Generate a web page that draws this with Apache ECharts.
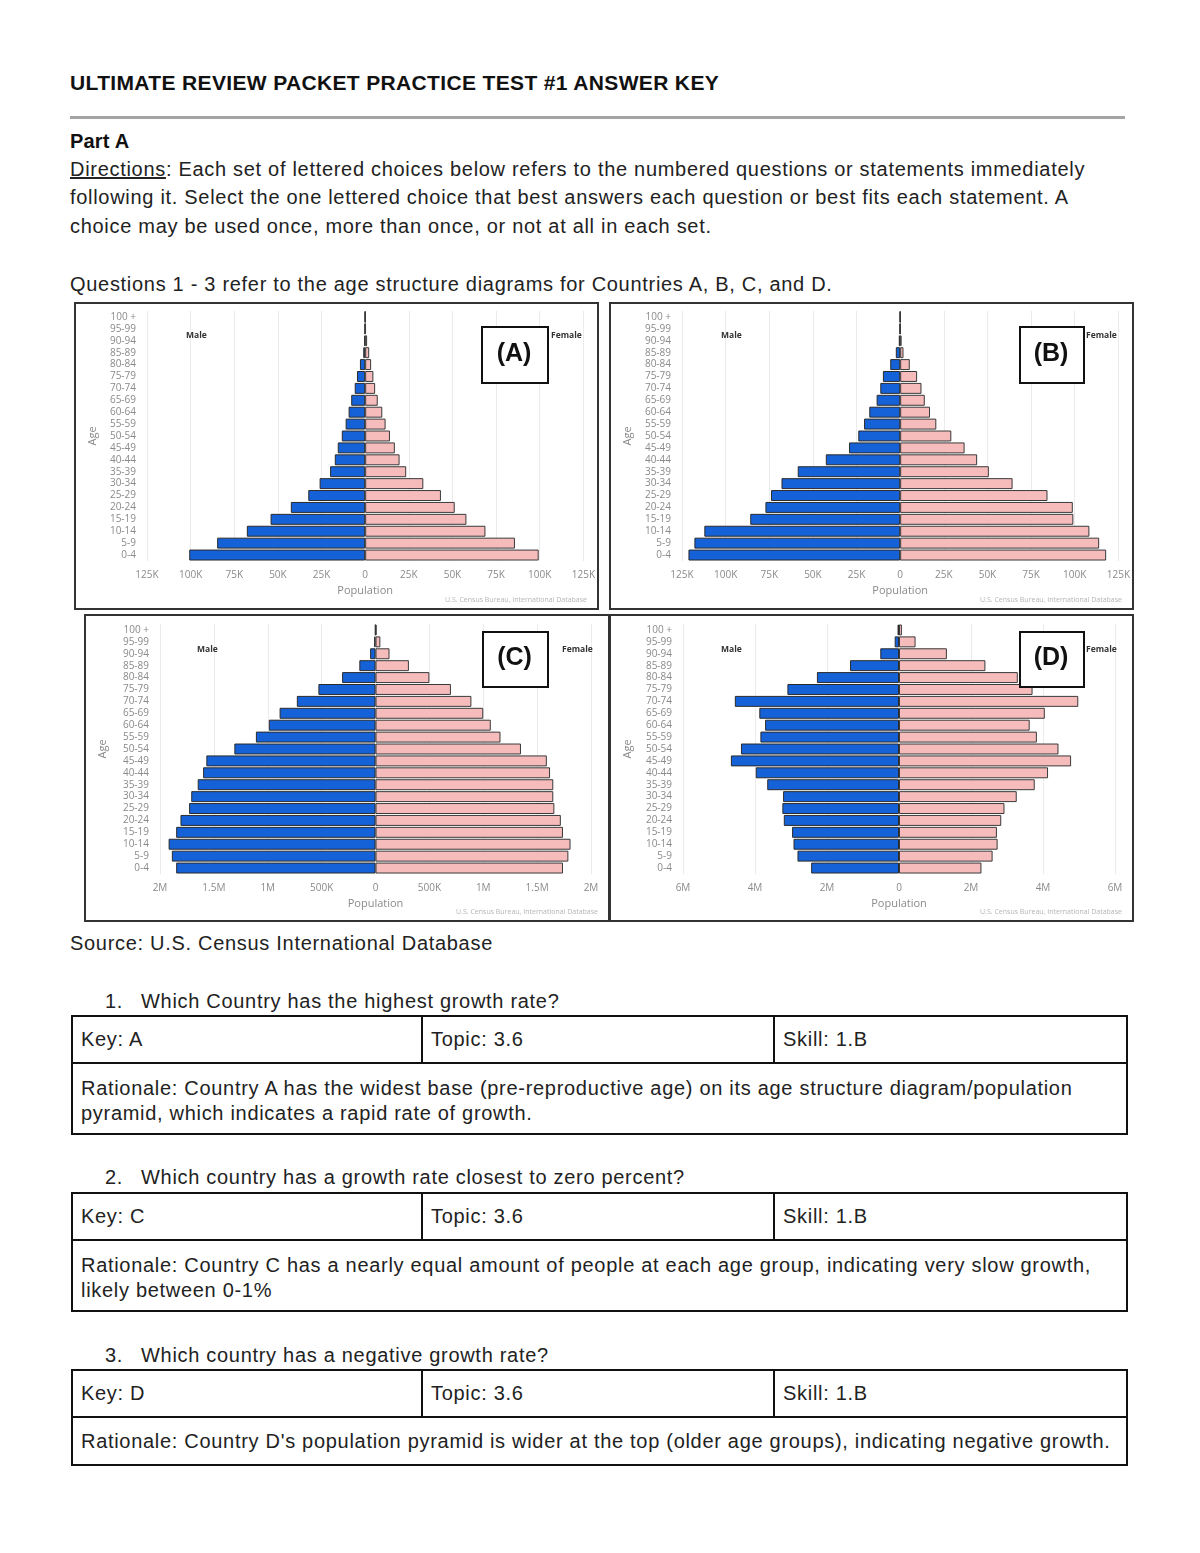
<!DOCTYPE html>
<html>
<head>
<meta charset="utf-8">
<script src="https://cdn.jsdelivr.net/npm/echarts@6/dist/echarts.min.js"></script>
<style>
  html, body { margin: 0; padding: 0; background: #fff; }
  #page { position: relative; width: 1200px; height: 1553px; background: #fff; font-family: "Liberation Sans", Arial, sans-serif; color: #222; overflow: hidden; }
  .t { position: absolute; font-size: 20px; line-height: 24px; white-space: nowrap; letter-spacing: 0.7px; }
  .b { font-weight: bold; color: #111; }
  .title { font-size: 21px; letter-spacing: 0.35px; }
  .chart { position: absolute; }
  .frame { position: absolute; border: 2px solid #333; box-sizing: border-box; pointer-events: none; }
  table.k { position: absolute; left: 71px; width: 1055px; border-collapse: collapse; table-layout: fixed; }
  table.k td { border: 2px solid #111; font-size: 20px; line-height: 25px; padding: 0 0 0 8px; vertical-align: middle; color: #222; letter-spacing: 0.7px; white-space: nowrap; }
  table.k tr.r1 td { height: 45px; }
  table.k td.rat { vertical-align: top; padding-top: 12px; }
</style>
</head>
<body>
<div id="page">
  <div class="t b title" style="left:70px;top:71px;">ULTIMATE REVIEW PACKET PRACTICE TEST #1 ANSWER KEY</div>
  <div style="position:absolute;left:70px;top:116px;width:1055px;height:3px;background:#a4a4a4;"></div>
  <div class="t b" style="left:70px;top:129px;letter-spacing:0.2px;">Part A</div>
  <div class="t" style="left:70px;top:157px;"><u>Directions</u>: Each set of lettered choices below refers to the numbered questions or statements immediately</div>
  <div class="t" style="left:70px;top:185px;">following it. Select the one lettered choice that best answers each question or best fits each statement. A</div>
  <div class="t" style="left:70px;top:214px;">choice may be used once, more than once, or not at all in each set.</div>
  <div class="t" style="left:70px;top:272px;">Questions 1 - 3 refer to the age structure diagrams for Countries A, B, C, and D.</div>

  <div id="cA" class="chart" style="left:74px;top:302px;width:524px;height:307px;"></div>
  <div id="cB" class="chart" style="left:609px;top:302px;width:524px;height:307px;"></div>
  <div id="cC" class="chart" style="left:84px;top:614px;width:525px;height:307px;"></div>
  <div id="cD" class="chart" style="left:609px;top:614px;width:524px;height:307px;"></div>
  <div class="frame" style="left:74px;top:302px;width:525px;height:308px;"></div>
  <div class="frame" style="left:609px;top:302px;width:525px;height:308px;"></div>
  <div class="frame" style="left:84px;top:614px;width:526px;height:308px;"></div>
  <div class="frame" style="left:609px;top:614px;width:525px;height:308px;"></div>

  <div class="t" style="left:70px;top:931px;">Source: U.S. Census International Database</div>

  <div class="t" style="left:105px;top:989px;">1.</div>
  <div class="t" style="left:141px;top:989px;">Which Country has the highest growth rate?</div>
  <table class="k" style="top:1015px;">
    <colgroup><col style="width:350px"><col style="width:352px"><col style="width:353px"></colgroup>
    <tr class="r1"><td>Key: A</td><td>Topic: 3.6</td><td>Skill: 1.B</td></tr>
    <tr><td class="rat" colspan="3" style="height:57px;">Rationale: Country A has the widest base (pre-reproductive age) on its age structure diagram/population<br>pyramid, which indicates a rapid rate of growth.</td></tr>
  </table>

  <div class="t" style="left:105px;top:1165px;">2.</div>
  <div class="t" style="left:141px;top:1165px;">Which country has a growth rate closest to zero percent?</div>
  <table class="k" style="top:1192px;">
    <colgroup><col style="width:350px"><col style="width:352px"><col style="width:353px"></colgroup>
    <tr class="r1"><td>Key: C</td><td>Topic: 3.6</td><td>Skill: 1.B</td></tr>
    <tr><td class="rat" colspan="3" style="height:57px;">Rationale: Country C has a nearly equal amount of people at each age group, indicating very slow growth,<br>likely between 0-1%</td></tr>
  </table>

  <div class="t" style="left:105px;top:1343px;">3.</div>
  <div class="t" style="left:141px;top:1343px;">Which country has a negative growth rate?</div>
  <table class="k" style="top:1369px;">
    <colgroup><col style="width:350px"><col style="width:352px"><col style="width:353px"></colgroup>
    <tr class="r1"><td>Key: D</td><td>Topic: 3.6</td><td>Skill: 1.B</td></tr>
    <tr><td colspan="3" style="height:46px;">Rationale: Country D's population pyramid is wider at the top (older age groups), indicating negative growth.</td></tr>
  </table>
</div>

<script>
// ---- data ----
const ageGroups = ['0-4','5-9','10-14','15-19','20-24','25-29','30-34','35-39','40-44','45-49','50-54','55-59','60-64','65-69','70-74','75-79','80-84','85-89','90-94','95-99','100 +'];

// Country A (thousands)
const maleA   = [100.8, 84.8, 67.8, 54.2, 42.6, 32.6, 26.1, 20.1, 17.4, 15.7, 13.4, 11.2, 9.5, 8.0, 6.0, 4.7, 3.0, 1.1, 0.5, 0.3, 0.1];
const femaleA = [99.4, 85.8, 68.9, 58.0, 51.3, 43.4, 33.3, 23.5, 19.7, 17.0, 14.2, 11.7, 9.8, 7.2, 5.7, 4.7, 3.4, 2.3, 1.1, 0.4, 0.1];
// Country B (thousands)
const maleB   = [121.3, 117.9, 112.2, 85.9, 77.2, 74.0, 68.0, 58.7, 42.6, 29.3, 24.0, 20.7, 17.7, 13.5, 11.4, 9.9, 5.7, 2.5, 0.8, 0.3, 0.1];
const femaleB = [118.0, 114.0, 108.4, 99.2, 98.9, 84.4, 64.4, 50.8, 44.1, 36.9, 29.3, 20.7, 17.1, 14.1, 12.2, 9.7, 5.5, 1.9, 0.8, 0.3, 0.1];
// Country C (millions)
const maleC   = [1.85, 1.89, 1.92, 1.85, 1.81, 1.73, 1.71, 1.65, 1.60, 1.57, 1.31, 1.11, 0.99, 0.89, 0.73, 0.53, 0.31, 0.15, 0.05, 0.012, 0.003];
const femaleC = [1.74, 1.79, 1.81, 1.74, 1.72, 1.66, 1.65, 1.65, 1.62, 1.59, 1.35, 1.16, 1.07, 1.00, 0.89, 0.70, 0.50, 0.31, 0.13, 0.045, 0.01];
// Country D (millions)
const maleD   = [2.44, 2.82, 2.93, 2.97, 3.20, 3.24, 3.22, 3.66, 3.98, 4.67, 4.39, 3.85, 3.72, 3.88, 4.56, 3.10, 2.28, 1.36, 0.52, 0.12, 0.04];
const femaleD = [2.29, 2.60, 2.74, 2.72, 2.84, 2.93, 3.27, 3.77, 4.14, 4.78, 4.43, 3.83, 3.63, 4.05, 4.98, 3.71, 3.30, 2.40, 1.33, 0.46, 0.08];

// tick labels (left to right)
const ticksAB = ['125K','100K','75K','50K','25K','0','25K','50K','75K','100K','125K'];
const ticksC  = ['2M','1.5M','1M','500K','0','500K','1M','1.5M','2M'];
const ticksD  = ['6M','4M','2M','0','2M','4M','6M'];

const MALE_COLOR = '#1562d8';
const FEMALE_COLOR = '#f6bcbc';

function build(id, cfg) {
  const chart = echarts.init(document.getElementById(id), null, { renderer: 'canvas' });
  const lblFont = '"Open Sans", "DejaVu Sans", sans-serif';
  const cx = cfg.box[0] + cfg.box[2] / 2;
  const cy = cfg.box[1] + cfg.box[3] / 2;
  chart.setOption({
    animation: false,
    backgroundColor: '#fff',
    grid: cfg.grid,
    xAxis: {
      type: 'value', min: cfg.min, max: -cfg.min, interval: cfg.interval,
      axisLine: { show: false }, axisTick: { show: false },
      splitLine: { show: true, lineStyle: { color: '#ebebeb', width: 1 } },
      axisLabel: {
        margin: 9, fontSize: 10, color: '#8a8a8a', fontFamily: lblFont,
        formatter: v => cfg.ticks[Math.round((v - cfg.min) / cfg.interval)]
      },
      name: 'Population', nameLocation: 'middle', nameGap: 21,
      nameTextStyle: { fontSize: 11, color: '#8a8a8a', fontFamily: lblFont }
    },
    yAxis: {
      type: 'category', data: ageGroups,
      axisLine: { show: false }, axisTick: { show: false },
      splitLine: { show: false },
      axisLabel: { interval: 0, margin: 11, fontSize: 10, lineHeight: 11, color: '#8a8a8a', fontFamily: lblFont },
      name: 'Age', nameLocation: 'middle', nameGap: cfg.grid.left - 24, nameRotate: 90,
      nameTextStyle: { fontSize: 11, color: '#8a8a8a', fontFamily: lblFont }
    },
    series: [
      {
        name: 'Male', type: 'bar', stack: 'pop', barCategoryGap: '8%',
        data: cfg.male.map(v => -v),
        itemStyle: { color: MALE_COLOR, borderColor: '#2b2b2b', borderWidth: 1 }
      },
      {
        name: 'Female', type: 'bar', stack: 'pop', barCategoryGap: '8%',
        data: cfg.female,
        itemStyle: { color: FEMALE_COLOR, borderColor: '#3a3a3a', borderWidth: 1 }
      }
    ],
    graphic: [
      { type: 'text', left: cfg.maleX, top: cfg.sexY, z: 50,
        style: { text: 'Male', fontSize: 8.5, fontWeight: 'bold', fill: '#333', fontFamily: lblFont } },
      { type: 'text', left: cfg.femaleX, top: cfg.sexY, z: 50,
        style: { text: 'Female', fontSize: 8.5, fontWeight: 'bold', fill: '#333', fontFamily: lblFont } },
      { type: 'rect', left: cfg.box[0], top: cfg.box[1], z: 100,
        shape: { width: cfg.box[2], height: cfg.box[3] },
        style: { fill: '#fff', stroke: '#111', lineWidth: 2 } },
      { type: 'text', z: 101, x: cx, y: cy,
        style: { text: cfg.label, x: 0, y: 0, fontSize: 25, fontWeight: 'bold', fill: '#111', fontFamily: '"Liberation Sans", Arial, sans-serif', align: 'center', verticalAlign: 'middle' } },
      { type: 'text', right: 11, top: 294, z: 50,
        style: { text: 'U.S. Census Bureau, International Database', fontSize: 7, fill: '#b5b5b5', fontFamily: lblFont } }
    ]
  });
}

build('cA', { male: maleA, female: femaleA, min: -125, interval: 25, ticks: ticksAB,
  grid: { left: 73, right: 11, top: 9, bottom: 48 }, label: '(A)', box: [407, 24, 66, 56],
  maleX: 112, femaleX: 477, sexY: 29 });
build('cB', { male: maleB, female: femaleB, min: -125, interval: 25, ticks: ticksAB,
  grid: { left: 73, right: 13, top: 9, bottom: 48 }, label: '(B)', box: [410, 24, 64, 56],
  maleX: 112, femaleX: 477, sexY: 29 });
build('cC', { male: maleC, female: femaleC, min: -2, interval: 0.5, ticks: ticksC,
  grid: { left: 76, right: 18, top: 10, bottom: 47 }, label: '(C)', box: [398, 17, 65, 55],
  maleX: 113, femaleX: 478, sexY: 31 });
build('cD', { male: maleD, female: femaleD, min: -6, interval: 2, ticks: ticksD,
  grid: { left: 74, right: 18, top: 10, bottom: 47 }, label: '(D)', box: [410, 17, 64, 55],
  maleX: 112, femaleX: 477, sexY: 31 });
</script>
</body>
</html>
